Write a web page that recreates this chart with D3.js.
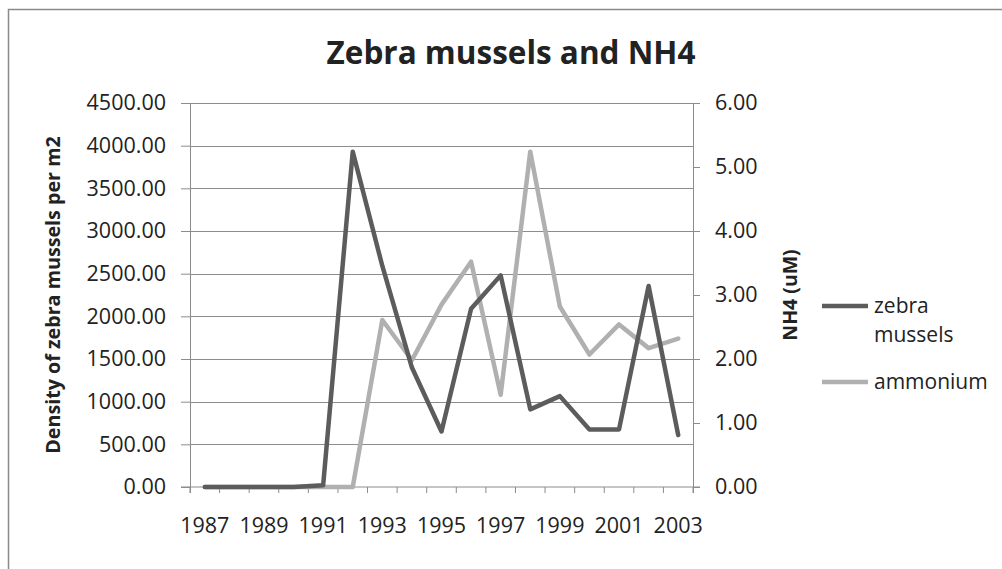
<!DOCTYPE html>
<html><head><meta charset="utf-8">
<script src="https://cdn.jsdelivr.net/npm/d3@7"></script>
<style>
body{margin:0;background:#fff;}
text{font-family:"Open Sans",sans-serif;fill:#222;}
</style></head>
<body><svg id="c" width="1002" height="569"></svg>
<script>
const years = [1987,1988,1989,1990,1991,1992,1993,1994,1995,1996,1997,1998,1999,2000,2001,2002,2003];
const zebra = [0,0,0,0,20,3930,2590,1400,650,2090,2480,910,1065,675,675,2355,610];
const ammonium = [0,0,0,0,0,0,2.61,1.98,2.85,3.52,1.44,5.24,2.82,2.07,2.54,2.17,2.32];
const leftTicks = [0,500,1000,1500,2000,2500,3000,3500,4000,4500];
const rightTicks = [0,1,2,3,4,5,6];
const xLabels = [1987,1989,1991,1993,1995,1997,1999,2001,2003];
const seriesNames = ["zebra mussels","ammonium"];
const colors = ["#5c5c5c","#b0b0b0"];

const svg = d3.select("#c");
svg.append("rect").attr("width",1002).attr("height",569).attr("fill","#fff");
svg.append("rect").attr("x",8.5).attr("y",9.5).attr("width",1100).attr("height",700)
  .attr("fill","none").attr("stroke","#8a8a8a").attr("stroke-width",1.5);

const L=190,R=693,T=103,B=487;
const x = d3.scaleBand().domain(years).range([L,R]).padding(0);
const yL = d3.scaleLinear().domain([0,4500]).range([B,T]);
const yR = d3.scaleLinear().domain([0,6]).range([B,T]);
const cx = d => x(d)+x.bandwidth()/2;
const fmt = d3.format(".2f");
const tickFont = "21.5px";

// gridlines
svg.append("g").selectAll("line").data(leftTicks.filter(d=>d>0)).join("line")
  .attr("x1",L).attr("x2",R).attr("y1",d=>Math.round(yL(d))+0.5).attr("y2",d=>Math.round(yL(d))+0.5)
  .attr("stroke","#8c8c8c").attr("stroke-width",1);

// left axis
const gl = svg.append("g").attr("transform",`translate(${L},0)`)
  .call(d3.axisLeft(yL).tickValues(leftTicks).tickFormat(fmt).tickSize(9).tickPadding(15));
// right axis
const gr = svg.append("g").attr("transform",`translate(${R},0)`)
  .call(d3.axisRight(yR).tickValues(rightTicks).tickFormat(fmt).tickSize(7).tickPadding(15));
// bottom axis with ticks at band boundaries
const gb = svg.append("g").attr("transform",`translate(0,${B})`);
gb.append("line").attr("x1",L-9).attr("x2",R+7).attr("stroke","#8c8c8c");
gb.selectAll("line.t").data(years.concat([null])).join("line").attr("class","t")
  .attr("x1",(d,i)=>L+i*x.bandwidth()).attr("x2",(d,i)=>L+i*x.bandwidth())
  .attr("y1",0).attr("y2",6).attr("stroke","#8c8c8c");
gb.selectAll("text").data(xLabels).join("text")
  .attr("x",d=>cx(d)).attr("y",46).attr("text-anchor","middle")
  .style("font-size",tickFont).text(d=>d);

[gl,gr].forEach(g=>{
  g.selectAll(".tick line").attr("stroke","#8c8c8c");
  g.selectAll(".tick text").style("font-size",tickFont).style("font-family","Open Sans").attr("fill","#222");
  g.select(".domain").remove();
});
svg.append("line").attr("x1",L+0.5).attr("x2",L+0.5).attr("y1",T).attr("y2",B+6).attr("stroke","#8c8c8c");
svg.append("line").attr("x1",R+0.5).attr("x2",R+0.5).attr("y1",T).attr("y2",B+6).attr("stroke","#8c8c8c");

// lines
const lineL = d3.line().x((d,i)=>cx(years[i])).y(d=>yL(d));
const lineR = d3.line().x((d,i)=>cx(years[i])).y(d=>yR(d));
svg.append("path").datum(ammonium).attr("d",lineR).attr("fill","none")
  .attr("stroke",colors[1]).attr("stroke-width",4.5).attr("stroke-linejoin","round").attr("stroke-linecap","round");
svg.append("path").datum(zebra).attr("d",lineL).attr("fill","none")
  .attr("stroke",colors[0]).attr("stroke-width",4.5).attr("stroke-linejoin","round").attr("stroke-linecap","round");

// title
svg.append("text").attr("x",511).attr("y",64).attr("text-anchor","middle")
  .style("font-size","31.5px").style("font-weight","bold").attr("fill","#000").text("Zebra mussels and NH4");
// axis titles
svg.append("text").attr("transform",`translate(60,${(T+B)/2}) rotate(-90)`).attr("text-anchor","middle")
  .style("font-size","19.7px").style("font-weight","bold").attr("fill","#000").text("Density of zebra mussels per m2");
svg.append("text").attr("transform",`translate(797,${(T+B)/2}) rotate(-90)`).attr("text-anchor","middle")
  .style("font-size","19.5px").style("font-weight","bold").attr("fill","#000").text("NH4 (uM)");

// legend
const lg = svg.append("g");
const legY = [306,382];
lg.selectAll("line").data(seriesNames).join("line")
  .attr("x1",822).attr("x2",868).attr("y1",(d,i)=>legY[i]).attr("y2",(d,i)=>legY[i])
  .attr("stroke",(d,i)=>colors[i]).attr("stroke-width",4.5);
lg.append("text").attr("x",874).attr("y",313).style("font-size","21px")
  .call(t=>{t.append("tspan").attr("x",874).text("zebra");t.append("tspan").attr("x",874).attr("dy",28.5).text("mussels");});
lg.append("text").attr("x",874).attr("y",389).style("font-size","21px").text(seriesNames[1]);
</script></body></html>
